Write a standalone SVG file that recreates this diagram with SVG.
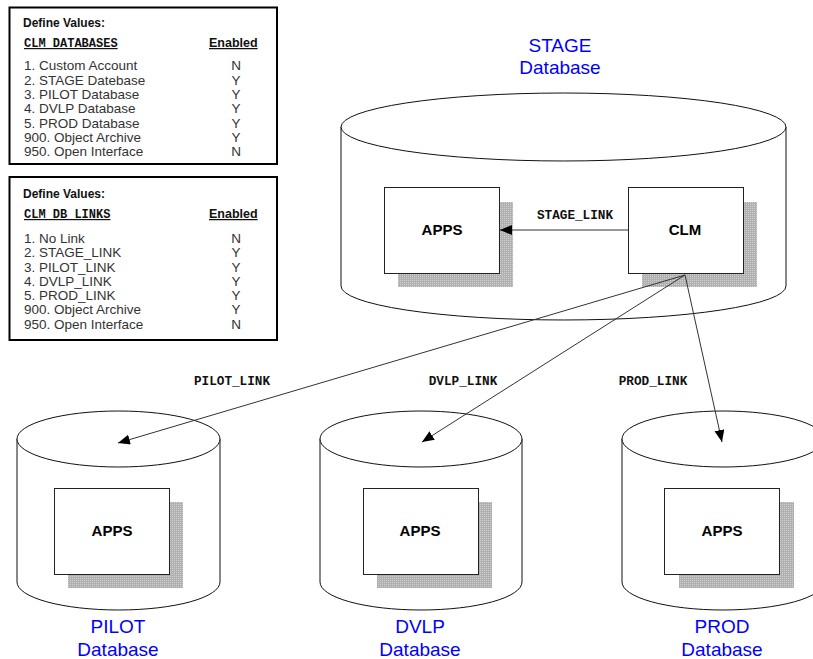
<svg xmlns="http://www.w3.org/2000/svg" width="813" height="659" viewBox="0 0 813 659">
<style>
.panel{fill:#fff;stroke:#000;stroke-width:2}
.ttl{font-family:"Liberation Sans",Arial,sans-serif;font-weight:bold;font-size:12px;fill:#111}
.hdr{font-family:"Liberation Mono","Courier New",monospace;font-weight:bold;font-size:12px;fill:#111;text-decoration:underline}
.en{font-family:"Liberation Sans",Arial,sans-serif;font-weight:bold;font-size:12.5px;fill:#111;text-decoration:underline}
.it{font-family:"Liberation Sans",Arial,sans-serif;font-size:13.5px;fill:#333}
.yn{font-family:"Liberation Sans",Arial,sans-serif;font-size:13.5px;fill:#333;text-anchor:middle}
.cyl{fill:#fff;stroke:#111;stroke-width:1}
.shadow{fill:url(#dither)}
.box{fill:#fff;stroke:#222;stroke-width:1}
.bl{font-family:"Liberation Sans",Arial,sans-serif;font-weight:bold;font-size:15px;fill:#000;text-anchor:middle}
.db{font-family:"Liberation Sans",Arial,sans-serif;font-size:19px;fill:#0000ff;text-anchor:middle}
.lk{font-family:"Liberation Mono","Courier New",monospace;font-weight:bold;font-size:12.7px;fill:#111;text-anchor:middle}
.con{stroke:#333;stroke-width:1;fill:none}
</style>
<defs>
<pattern id="dither" patternUnits="userSpaceOnUse" width="2" height="2">
<rect width="2" height="2" fill="#b0b0b0"/>
<rect x="0" y="0" width="1" height="1" fill="#cfcfd4"/>
</pattern>
<marker id="arr" markerUnits="userSpaceOnUse" markerWidth="13" markerHeight="11" refX="12" refY="5" orient="auto">
<path d="M0,0 L12,5 L0,10 Z" fill="#000"/>
</marker>
</defs>

<g id="table-databases">
<rect class="panel" x="9.5" y="7.5" width="267.5" height="156.5"/>
<text class="ttl" x="23" y="27">Define Values:</text>
<text class="hdr" x="24" y="47">CLM DATABASES</text>
<text class="en" x="209" y="47">Enabled</text>
<text class="it" x="24" y="70">1. Custom Account</text>
<text class="it" x="24" y="84.5">2. STAGE Datebase</text>
<text class="it" x="24" y="99">3. PILOT Database</text>
<text class="it" x="24" y="113">4. DVLP Database</text>
<text class="it" x="24" y="127.5">5. PROD Database</text>
<text class="it" x="24" y="141.5">900. Object Archive</text>
<text class="it" x="24" y="156">950. Open Interface</text>
<text class="yn" x="236" y="70">N</text>
<text class="yn" x="236" y="84.5">Y</text>
<text class="yn" x="236" y="99">Y</text>
<text class="yn" x="236" y="113">Y</text>
<text class="yn" x="236" y="127.5">Y</text>
<text class="yn" x="236" y="141.5">Y</text>
<text class="yn" x="236" y="156">N</text>
</g>

<g id="table-links">
<rect class="panel" x="9.5" y="177" width="267.5" height="163"/>
<text class="ttl" x="23" y="198">Define Values:</text>
<text class="hdr" x="24" y="218">CLM DB LINKS</text>
<text class="en" x="209" y="218">Enabled</text>
<text class="it" x="24" y="243">1. No Link</text>
<text class="it" x="24" y="257">2. STAGE_LINK</text>
<text class="it" x="24" y="271.5">3. PILOT_LINK</text>
<text class="it" x="24" y="285.5">4. DVLP_LINK</text>
<text class="it" x="24" y="300">5. PROD_LINK</text>
<text class="it" x="24" y="314">900. Object Archive</text>
<text class="it" x="24" y="328.5">950. Open Interface</text>
<text class="yn" x="236" y="243">N</text>
<text class="yn" x="236" y="257">Y</text>
<text class="yn" x="236" y="271.5">Y</text>
<text class="yn" x="236" y="285.5">Y</text>
<text class="yn" x="236" y="300">Y</text>
<text class="yn" x="236" y="314">Y</text>
<text class="yn" x="236" y="328.5">N</text>
</g>

<g id="stage-db">
<path class="cyl" d="M341,127 L341,286 A222.5,34 0 0 0 786,286 L786,127"/>
<path class="cyl" d="M341,127 A222.5,34 0 0 1 786,127 A222.5,34 0 0 1 341,127 Z"/>
<text class="db" x="560" y="52">STAGE</text>
<text class="db" x="560" y="74">Database</text>
</g>

<g id="stage-apps">
<rect class="shadow" x="398" y="202" width="115" height="85"/>
<rect class="box" x="384.5" y="187.5" width="115" height="86"/>
<text class="bl" x="442" y="235">APPS</text>
</g>

<g id="stage-clm">
<rect class="shadow" x="642" y="202" width="115" height="85"/>
<rect class="box" x="628.5" y="187.5" width="115" height="86"/>
<text class="bl" x="685" y="235">CLM</text>
</g>

<g id="pilot-db">
<path class="cyl" d="M17,439 L17,582 A101.5,28 0 0 0 220,582 L220,439"/>
<path class="cyl" d="M17,439 A101.5,28 0 0 1 220,439 A101.5,28 0 0 1 17,439 Z"/>
<rect class="shadow" x="68" y="502" width="115" height="86"/>
<rect class="box" x="54.5" y="488.5" width="115" height="86"/>
<text class="bl" x="112" y="536">APPS</text>
<text class="db" x="118" y="633">PILOT</text>
<text class="db" x="118" y="656">Database</text>
</g>

<g id="dvlp-db">
<path class="cyl" d="M320,439 L320,582 A101,28 0 0 0 522,582 L522,439"/>
<path class="cyl" d="M320,439 A101,28 0 0 1 522,439 A101,28 0 0 1 320,439 Z"/>
<rect class="shadow" x="377" y="502" width="115" height="86"/>
<rect class="box" x="363.5" y="488.5" width="115" height="86"/>
<text class="bl" x="420" y="536">APPS</text>
<text class="db" x="420" y="633">DVLP</text>
<text class="db" x="420" y="656">Database</text>
</g>

<g id="prod-db">
<path class="cyl" d="M622,439 L622,582 A101,28 0 0 0 824,582 L824,439"/>
<path class="cyl" d="M622,439 A101,28 0 0 1 824,439 A101,28 0 0 1 622,439 Z"/>
<rect class="shadow" x="679" y="502" width="115" height="86"/>
<rect class="box" x="664.5" y="488.5" width="115" height="86"/>
<text class="bl" x="722" y="536">APPS</text>
<text class="db" x="722" y="633">PROD</text>
<text class="db" x="722" y="656">Database</text>
</g>

<g id="connectors">
<line class="con" x1="628" y1="230" x2="500" y2="230" marker-end="url(#arr)"/>
<text class="lk" x="575" y="219">STAGE_LINK</text>
<line class="con" x1="685" y1="275" x2="118" y2="443" marker-end="url(#arr)"/>
<text class="lk" x="232" y="385">PILOT_LINK</text>
<line class="con" x1="685" y1="275" x2="422" y2="442" marker-end="url(#arr)"/>
<text class="lk" x="463" y="385">DVLP_LINK</text>
<line class="con" x1="685" y1="275" x2="722" y2="442" marker-end="url(#arr)"/>
<text class="lk" x="653" y="385">PROD_LINK</text>
</g>
</svg>
